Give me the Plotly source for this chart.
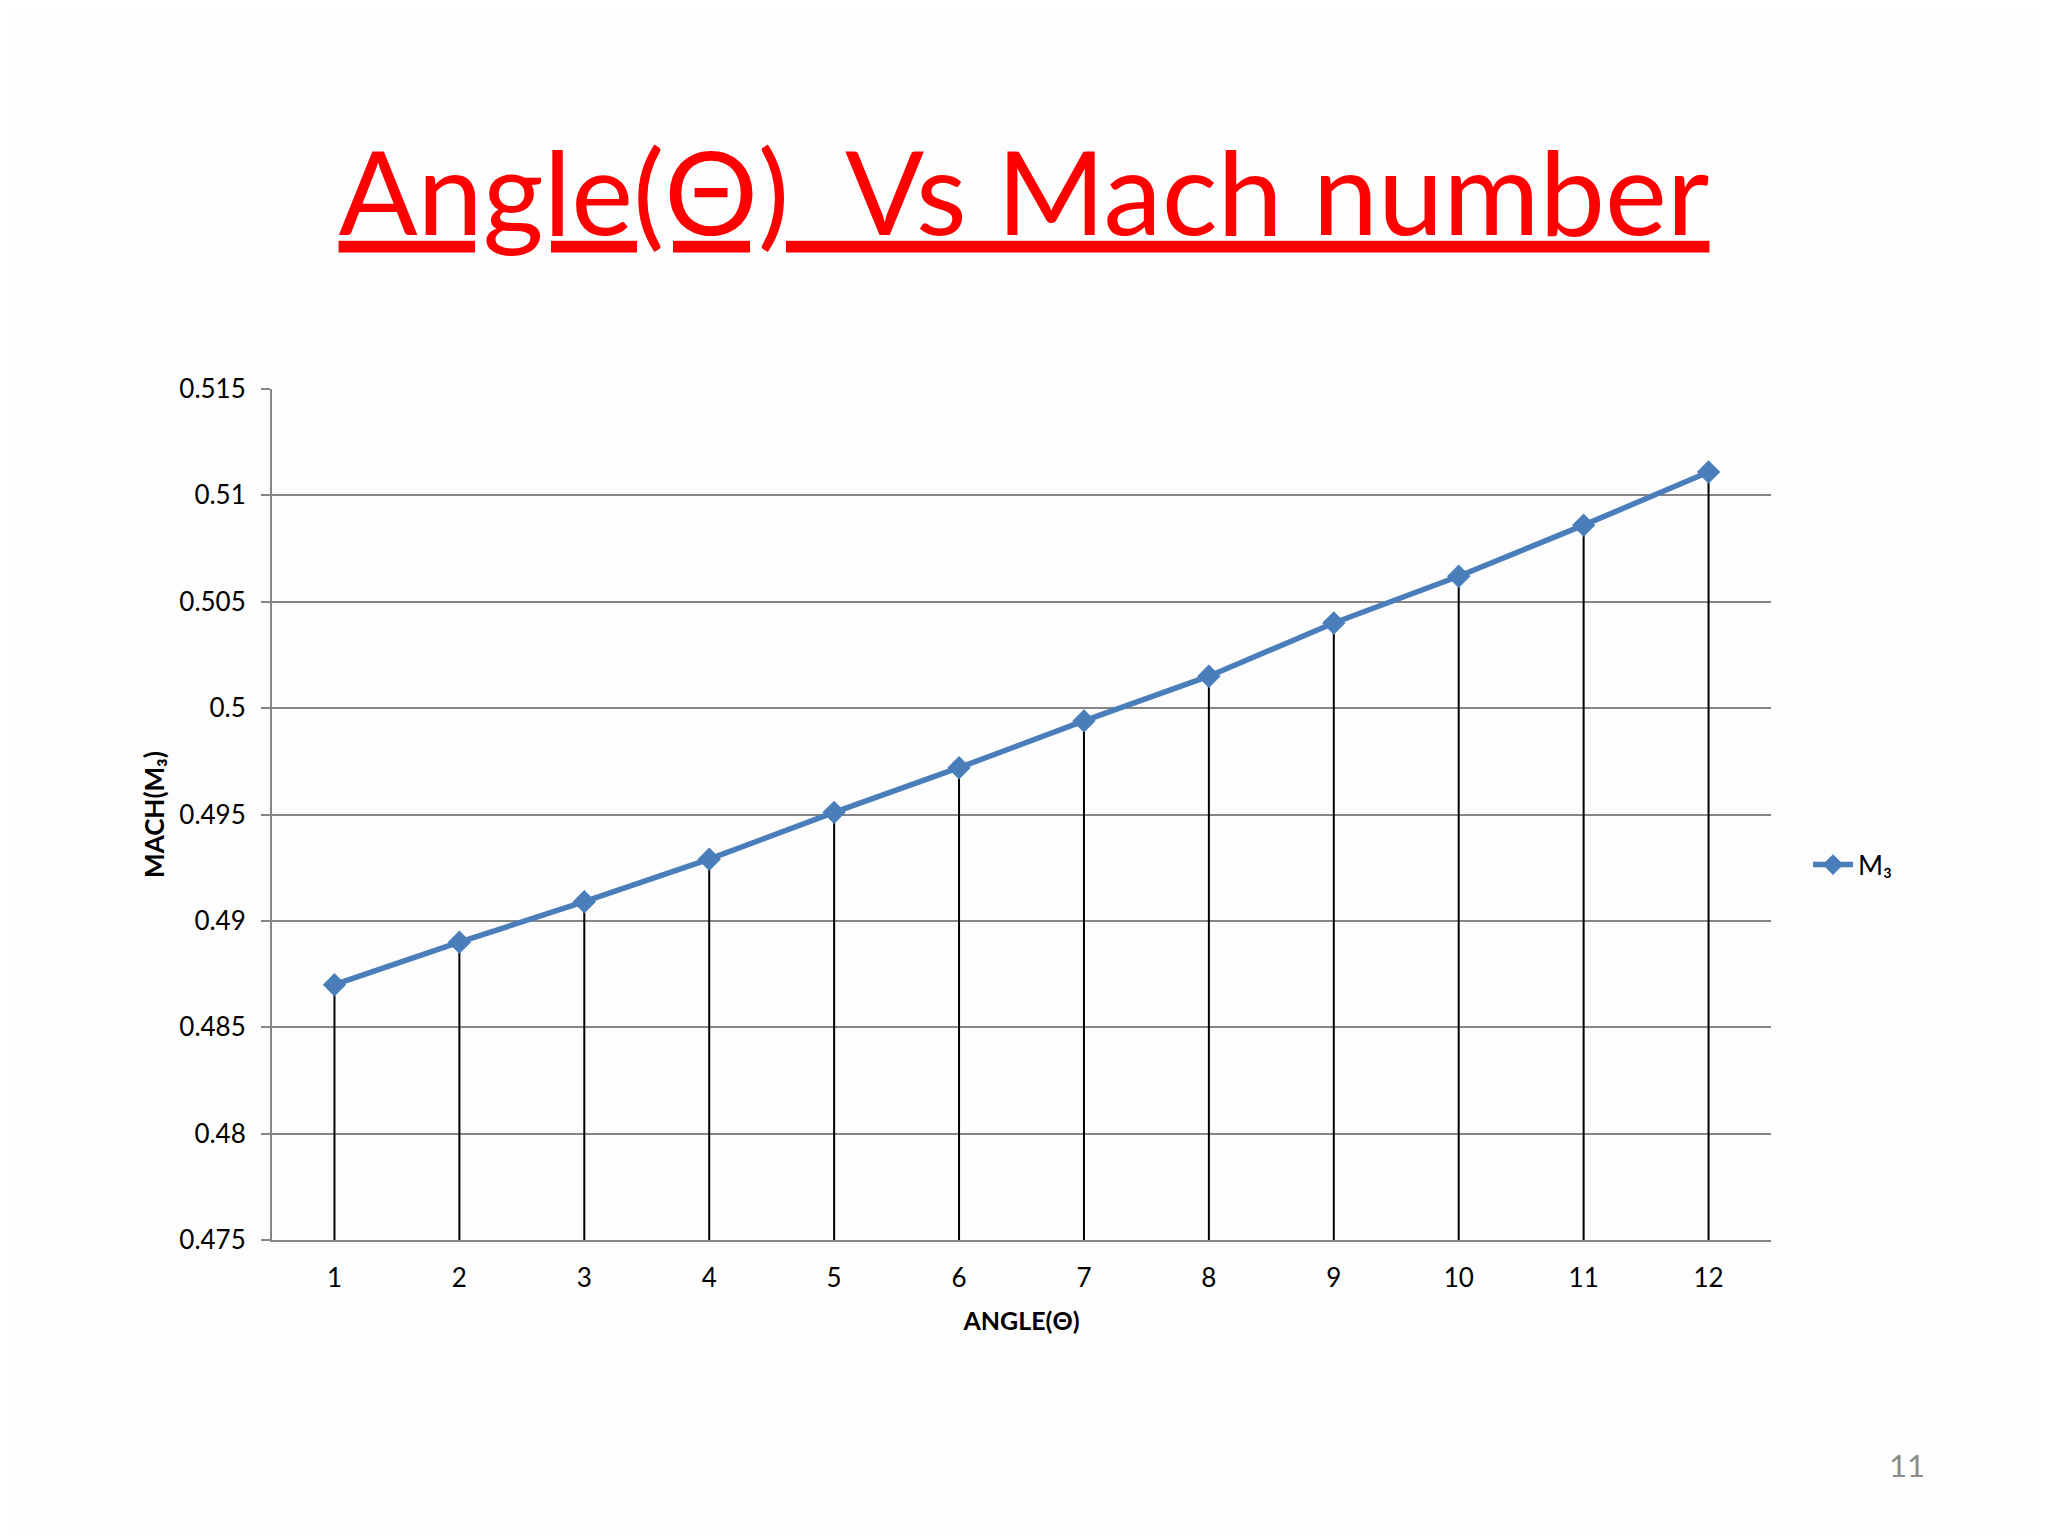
import plotly.graph_objects as go

angles = [1, 2, 3, 4, 5, 6, 7, 8, 9, 10, 11, 12]
mach = [0.4870, 0.4890, 0.4909, 0.4929, 0.4951, 0.4972, 0.4994, 0.5015, 0.5040, 0.5062, 0.5086, 0.5111]
y_ticks = [0.475, 0.48, 0.485, 0.49, 0.495, 0.5, 0.505, 0.51, 0.515]
y_tick_labels = ["0.475", "0.48", "0.485", "0.49", "0.495", "0.5", "0.505", "0.51", "0.515"]
y_base = 0.475
series_name = "M\u2083"

FONT = "Lato"

# plot area in figure pixels (page is offset by the 8px body margin)
L, R, T, B = 264, 285, 381, 304
W, H = 2048, 1536
PW, PH = W - L - R, H - T - B

fig = go.Figure()
fig.add_trace(go.Scatter(
    x=angles,
    y=mach,
    mode="lines+markers",
    name=series_name,
    line=dict(color="#4a7ebb", width=5.5),
    marker=dict(symbol="diamond", size=18, color="#4a7ebb"),
    error_y=dict(
        type="data",
        symmetric=False,
        array=[0] * len(mach),
        arrayminus=[v - y_base for v in mach],
        color="black",
        thickness=2,
        width=0,
    ),
))

fig.update_layout(
    width=W,
    height=H,
    paper_bgcolor="#fdfdfd",
    plot_bgcolor="#fdfdfd",
    margin=dict(l=L, r=R, t=T, b=B),
    font=dict(family=FONT, color="black", size=26),
    title=dict(
        text="<u>Angle(\u0398)\u00a0\u00a0Vs Mach number</u>",
        font=dict(family=FONT, size=117, color="#ff0000"),
        x=0.5 - 8 / W, xref="container", xanchor="center",
        y=0.879, yref="container", yanchor="middle",
    ),
    showlegend=True,
    legend=dict(
        x=(1800 - L) / PW, xanchor="left", y=(H - B - 857) / PH, yanchor="middle",
        font=dict(family=FONT, size=27, color="black"),
        bgcolor="rgba(0,0,0,0)",
        itemwidth=40,
    ),
    xaxis=dict(
        range=[0.5, 12.5],
        tickmode="array",
        tickvals=angles,
        ticktext=[str(a) for a in angles],
        showgrid=False,
        zeroline=False,
        showline=True,
        linecolor="#868686",
        linewidth=2,
        ticks="",
        ticklabelstandoff=14,
        tickfont=dict(family=FONT, size=26, color="black"),
        title=dict(text="<b>ANGLE(\u0398)</b>", font=dict(family=FONT, size=25, color="black"), standoff=20),
    ),
    yaxis=dict(
        range=[0.475, 0.515],
        tickmode="array",
        tickvals=y_ticks,
        ticktext=y_tick_labels,
        showgrid=True,
        gridcolor="#868686",
        gridwidth=2,
        zeroline=False,
        showline=True,
        linecolor="#868686",
        linewidth=2,
        ticks="outside",
        ticklen=9,
        tickcolor="#868686",
        tickwidth=2,
        ticklabelstandoff=10,
        tickfont=dict(family=FONT, size=26, color="black"),
        title=dict(text="<b>MACH(M\u2083)</b>", font=dict(family=FONT, size=26, color="black"), standoff=7),
    ),
)

fig.add_annotation(
    text="11",
    xref="paper", yref="paper",
    x=(1899 - L) / PW,
    y=(H - B - 1457) / PH,
    xanchor="center", yanchor="middle",
    showarrow=False,
    font=dict(family=FONT, size=31, color="#8b8b8b"),
)

fig.write_html("out.html")
